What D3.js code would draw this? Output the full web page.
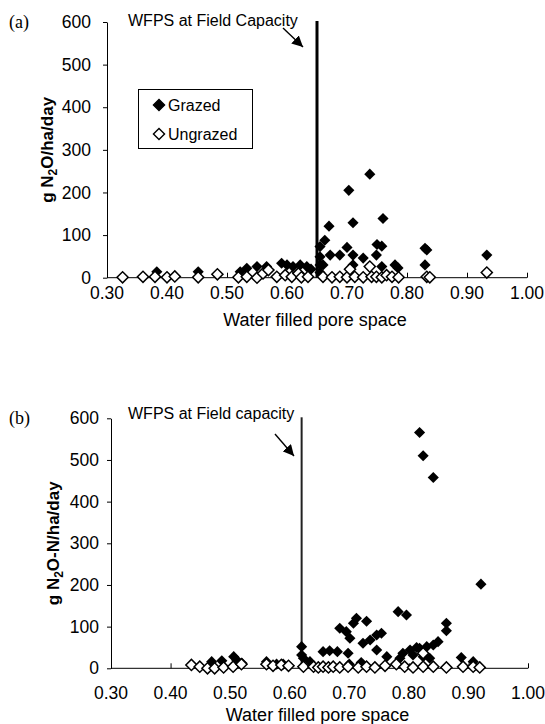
<!DOCTYPE html>
<html lang="en">
<head>
    <title>N2O vs WFPS</title>
    <script src="https://d3js.org/d3.v7.min.js"></script>
    <style>
        body { margin: 0; background: #fff; }
        text { font-family: "Liberation Sans", Arial, sans-serif; fill: #000; }
        .axis path, .axis line { stroke: #000; stroke-width: 1; }
        .serif { font-family: "Liberation Serif", "Times New Roman", serif; }
    </style>
</head>
<body>

<script>
    // values: [water filled pore space, g N2O /ha/day]
    const grazedA = [[0.383,14],[0.452,14],[0.522,14],[0.533,22],[0.55,26],[0.566,26],[0.591,34],[0.60,30],
        [0.61,26],[0.622,30],[0.633,26],[0.64,20],[0.655,73],[0.655,49],[0.655,30],[0.655,12],[0.66,30],
        [0.663,88],[0.67,121],[0.672,53],[0.688,53],[0.70,71],[0.703,205],[0.71,129],[0.71,53],[0.71,30],
        [0.727,46],[0.738,243],[0.749,53],[0.75,78],[0.758,74],[0.758,26],[0.76,139],[0.78,30],[0.785,23],
        [0.83,69],[0.833,65],[0.83,30],[0.933,53]];
    const ungrazedA = [[0.326,1],[0.36,2],[0.38,2],[0.40,1],[0.413,3],[0.452,1],[0.484,8],[0.519,1],[0.533,2],
        [0.55,0],[0.56,10],[0.569,18],[0.583,2],[0.597,6],[0.608,2],[0.619,10],[0.624,1],[0.635,2],[0.66,2],
        [0.675,1],[0.688,2],[0.70,1],[0.705,20],[0.713,2],[0.727,1],[0.738,26],[0.741,2],[0.749,2],[0.758,1],
        [0.766,6],[0.775,2],[0.786,1],[0.833,2],[0.838,1],[0.933,12]];

    const grazedB = [[0.469,16],[0.486,18],[0.506,28],[0.511,20],[0.52,12],[0.561,16],[0.578,10],[0.589,10],
        [0.62,52],[0.62,32],[0.623,24],[0.634,16],[0.656,40],[0.667,42],[0.68,40],[0.684,96],[0.695,88],
        [0.698,36],[0.70,10],[0.701,72],[0.707,108],[0.712,120],[0.72,14],[0.723,60],[0.729,113],[0.735,68],
        [0.746,80],[0.746,44],[0.754,84],[0.763,28],[0.782,136],[0.785,24],[0.79,36],[0.796,128],[0.802,44],
        [0.807,32],[0.813,50],[0.818,566],[0.818,48],[0.824,510],[0.824,28],[0.83,52],[0.835,24],[0.841,458],
        [0.841,56],[0.849,64],[0.863,108],[0.863,90],[0.888,26],[0.908,16],[0.921,202]];
    const ungrazedB = [[0.435,8],[0.449,4],[0.462,0],[0.474,0],[0.489,2],[0.505,4],[0.519,10],[0.561,10],
        [0.572,6],[0.586,8],[0.598,6],[0.623,4],[0.64,4],[0.648,2],[0.656,4],[0.665,2],[0.673,4],[0.684,2],
        [0.698,4],[0.715,2],[0.729,4],[0.743,2],[0.76,6],[0.779,10],[0.793,4],[0.807,2],[0.824,36],[0.824,4],
        [0.841,4],[0.863,2],[0.891,4],[0.908,4],[0.919,2]];

    const xTicks = [0.3, 0.4, 0.5, 0.6, 0.7, 0.8, 0.9, 1.0];
    const yTicks = [0, 100, 200, 300, 400, 500, 600];
    const fieldCapA = 0.65, fieldCapB = 0.62;

    const svg = d3.select("body").append("svg").attr("width", 545).attr("height", 724);

    svg.append("defs").append("marker")
        .attr("id", "arr").attr("viewBox", "0 0 10 10").attr("refX", 10).attr("refY", 5)
        .attr("markerWidth", 11).attr("markerHeight", 11).attr("markerUnits", "userSpaceOnUse")
        .attr("orient", "auto")
        .append("path").attr("d", "M0,0L10,5L0,10z").attr("fill", "#000");

    const diamond = d3.symbol().type(d3.symbolSquare).size(62);

    function panel(o) {
        const x = d3.scaleLinear().domain([0.3, 1.0]).range([o.x0, o.x1]);
        const y = d3.scaleLinear().domain([0, 600]).range([o.y0, o.y1]);
        const g = svg.append("g");

        g.append("g").attr("class", "axis")
            .attr("transform", `translate(0,${o.y0})`)
            .call(d3.axisTop(x).tickValues(xTicks).tickSize(5).tickSizeOuter(0).tickFormat(""))
            .call(a => a.select(".domain").remove())
            .call(a => a.append("line").attr("x1", o.x0).attr("x2", o.x1).attr("stroke", "#000"));
        g.selectAll(".xl").data(xTicks).join("text")
            .attr("x", x).attr("y", o.y0 + o.xlab).attr("text-anchor", "middle")
            .style("font-size", "17.5px").text(d3.format(".2f"));

        g.append("g").attr("class", "axis")
            .attr("transform", `translate(${o.x0},0)`)
            .call(d3.axisLeft(y).tickValues(yTicks).tickSize(4).tickSizeOuter(0).tickPadding(o.ypad))
            .call(a => a.selectAll("text").style("font-size", "17.5px"));

        g.append("line")
            .attr("x1", x(o.cap)).attr("x2", x(o.cap)).attr("y1", y(600) - 1).attr("y2", y(0))
            .attr("stroke", o.capColor).attr("stroke-width", o.capWidth);

        g.append("text").attr("x", 128).attr("y", o.noteY).style("font-size", "16px").text(o.note);
        g.append("line")
            .attr("x1", o.arrow[0]).attr("y1", o.arrow[1]).attr("x2", o.arrow[2]).attr("y2", o.arrow[3])
            .attr("stroke", "#000").attr("stroke-width", 1.4).attr("marker-end", "url(#arr)");

        g.append("g").selectAll("path").data(o.grazed).join("path")
            .attr("d", diamond)
            .attr("transform", d => `translate(${x(d[0])},${y(d[1])}) rotate(45)`)
            .attr("fill", "#000");
        g.append("g").selectAll("path").data(o.ungrazed).join("path")
            .attr("d", diamond)
            .attr("transform", d => `translate(${x(d[0])},${y(d[1])}) rotate(45)`)
            .attr("fill", "#fff").attr("stroke", "#000").attr("stroke-width", 1.5);

        g.append("text").attr("class", "serif").attr("x", 9).attr("y", o.y1 + 6)
            .style("font-size", "18px").text(o.tag);

        const yt = g.append("text")
            .attr("transform", `translate(${o.ytx},${(o.y0 + o.y1) / 2}) rotate(-90)`)
            .attr("text-anchor", "middle").style("font-size", "17px").style("font-weight", "bold");
        yt.append("tspan").text("g N");
        yt.append("tspan").attr("dy", 4).style("font-size", "12px").text("2");
        yt.append("tspan").attr("dy", -4).text(o.unit);

        g.append("text").attr("x", (o.x0 + o.x1) / 2 - 2).attr("y", o.y0 + o.xtitle)
            .attr("text-anchor", "middle").style("font-size", "18px").text("Water filled pore space");
        return g;
    }

    const gA = panel({x0: 107, x1: 527, y0: 277.7, y1: 22, ypad: 12, xlab: 21, xtitle: 48,
        cap: fieldCapA, capColor: "#000", capWidth: 3, note: "WFPS at Field Capacity", noteY: 26,
        arrow: [283, 28, 303, 47], grazed: grazedA, ungrazed: ungrazedA, tag: "(a)", ytx: 53,
        unit: "O/ha/day"});

    panel({x0: 111, x1: 528, y0: 668.3, y1: 418.3, ypad: 8, xlab: 31, xtitle: 53,
        cap: fieldCapB, capColor: "#222", capWidth: 2, note: "WFPS at Field capacity", noteY: 419,
        arrow: [275, 434, 294, 456], grazed: grazedB, ungrazed: ungrazedB, tag: "(b)", ytx: 59,
        unit: "O-N/ha/day"});

    // legend in panel (a)
    const leg = gA.append("g");
    leg.append("rect").attr("x", 138.5).attr("y", 89.5).attr("width", 114).attr("height", 59)
        .attr("fill", "#fff").attr("stroke", "#000");
    const legItems = [["Grazed", "#000"], ["Ungrazed", "#fff"]];
    leg.selectAll("path").data(legItems).join("path")
        .attr("d", diamond)
        .attr("transform", (d, i) => `translate(159,${105 + i * 29}) rotate(45)`)
        .attr("fill", d => d[1]).attr("stroke", "#000").attr("stroke-width", 1.4);
    leg.selectAll("text").data(legItems).join("text")
        .attr("x", 168).attr("y", (d, i) => 111 + i * 29)
        .style("font-size", "16px").text(d => d[0]);
</script>

</body>
</html>
